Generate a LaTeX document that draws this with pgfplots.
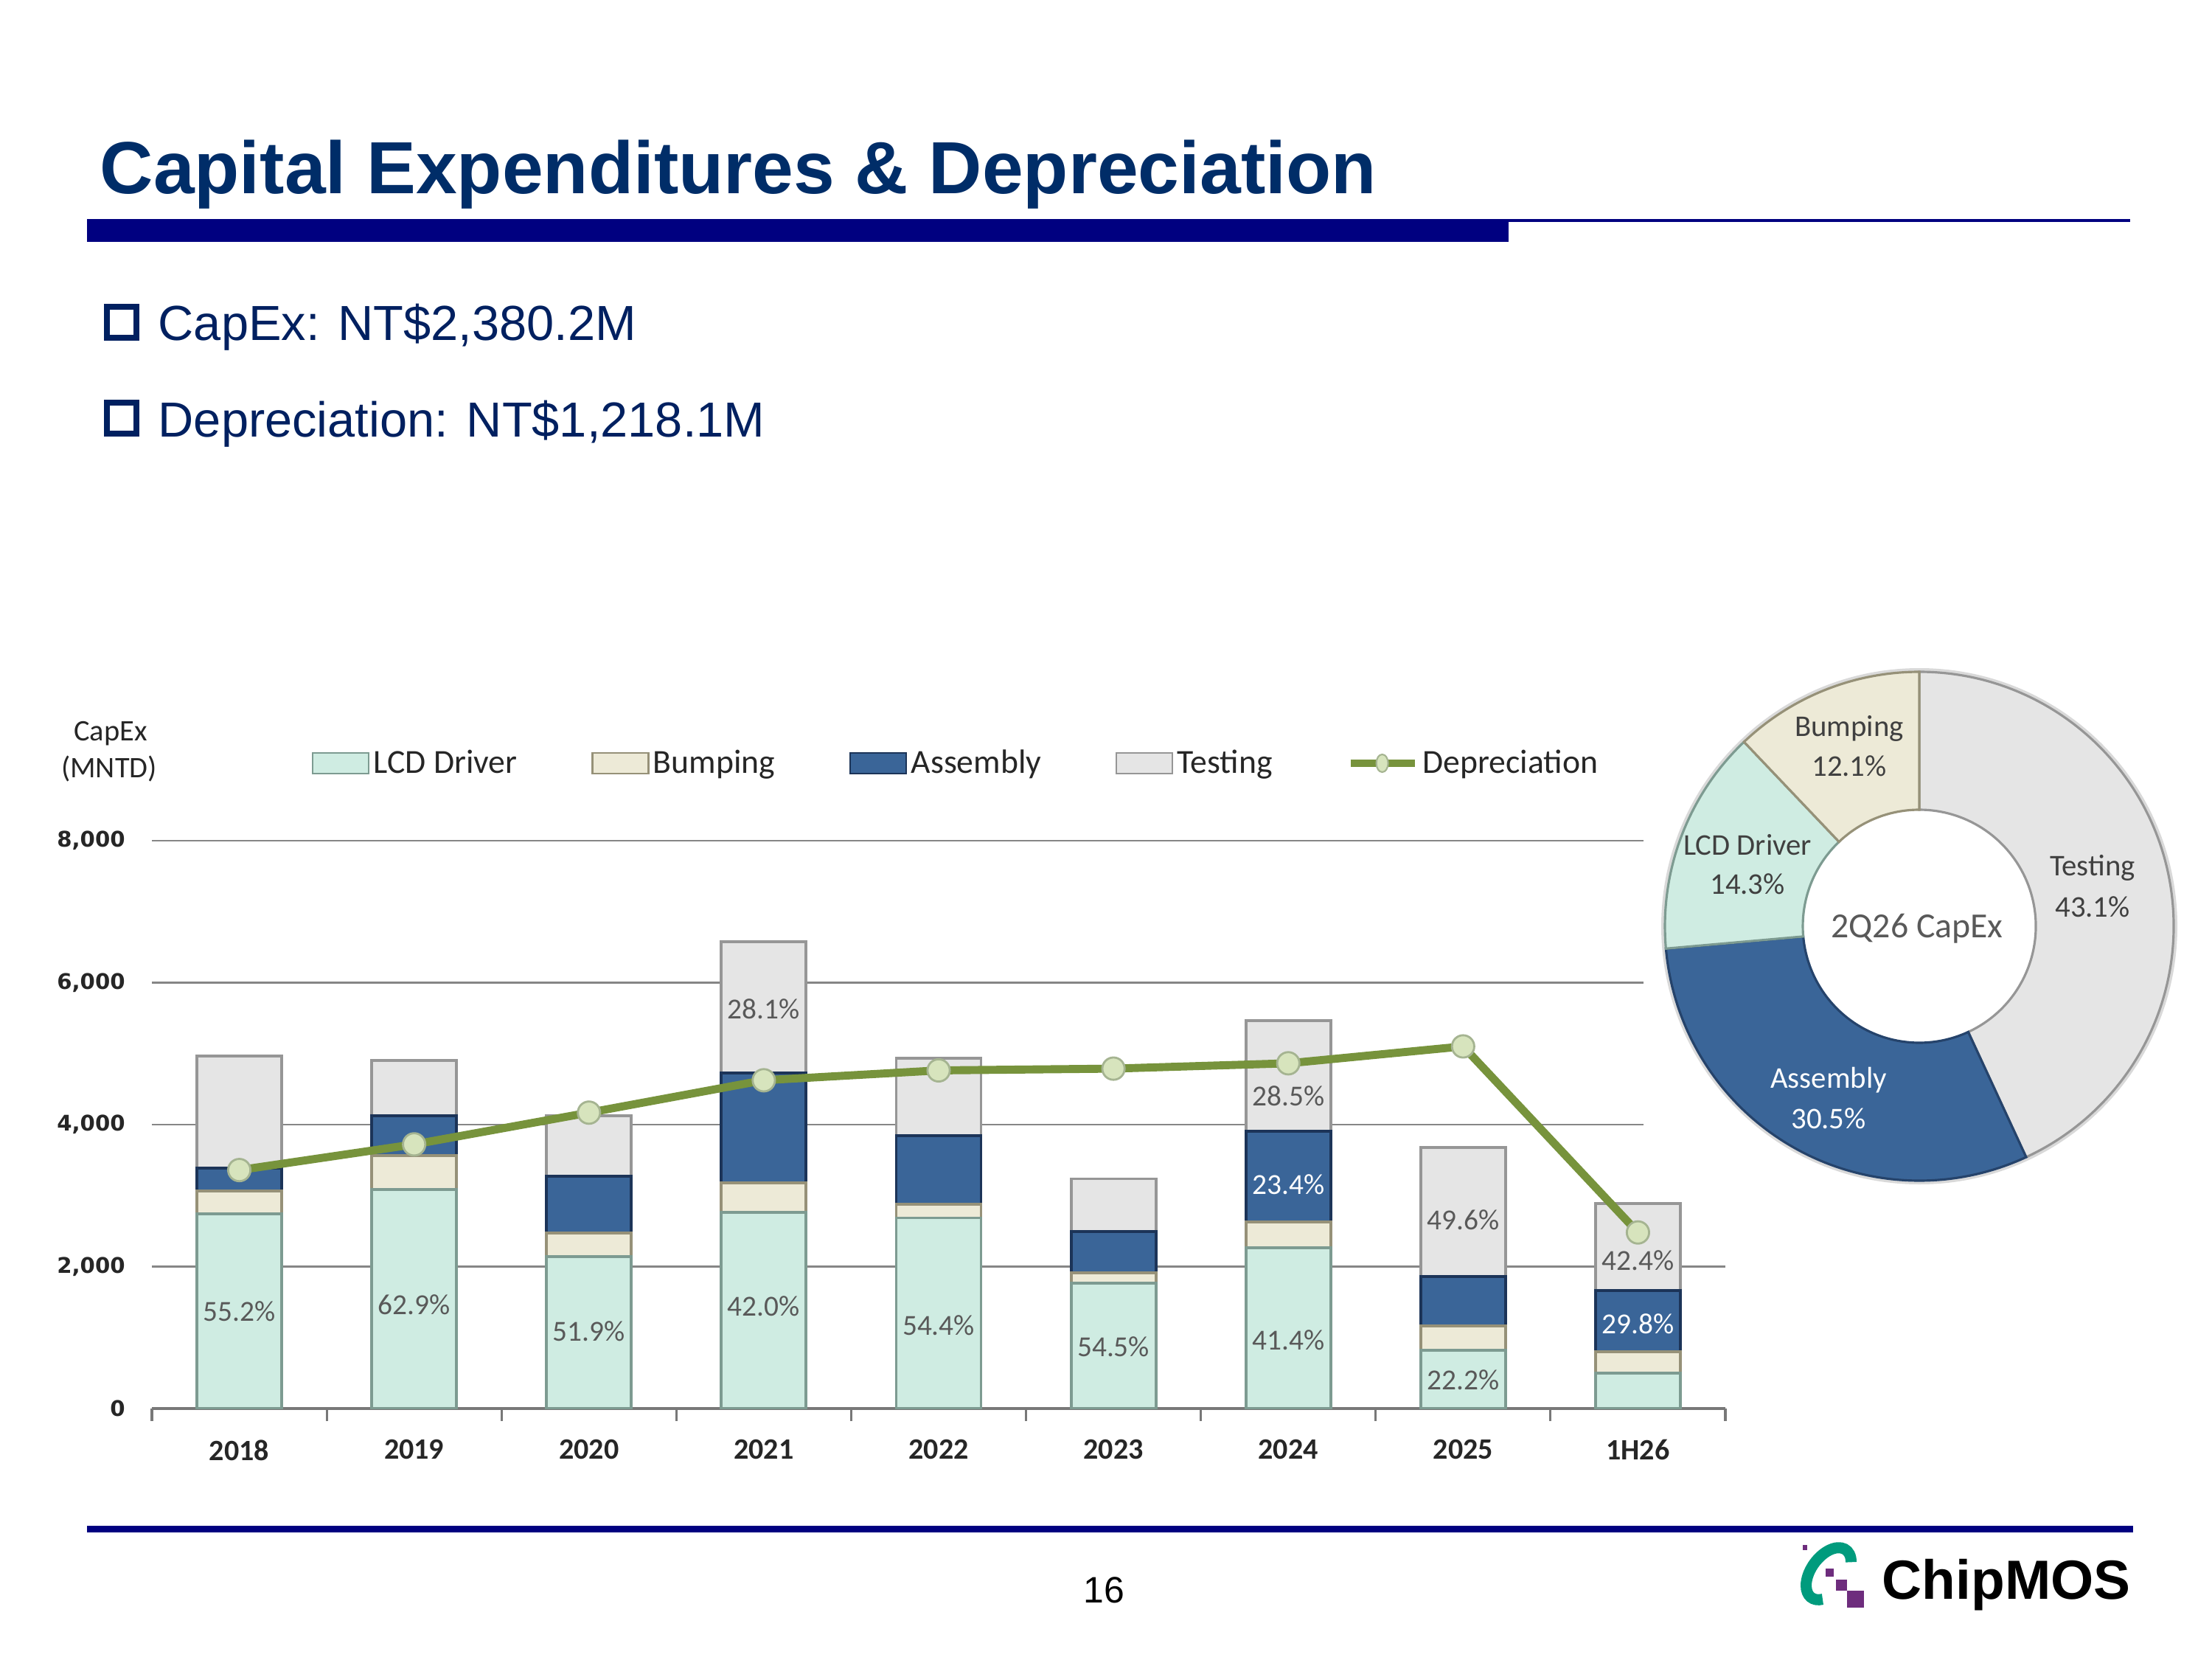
\documentclass[border=0pt]{standalone}
\usepackage{pgfplots}
\pgfplotsset{compat=1.18}
\usepackage{fontspec}
\setmainfont{Liberation Sans}
\newfontfamily\carlito{Carlito}
\newfontfamily\dejavu{DejaVu Sans}
\definecolor{navy}{RGB}{0,0,128}
\definecolor{titleblue}{RGB}{0,45,104}
\definecolor{bullblue}{RGB}{0,32,96}
\definecolor{lcd}{RGB}{207,236,226}
\definecolor{lcdD}{RGB}{125,155,145}
\definecolor{bump}{RGB}{237,234,215}
\definecolor{bumpD}{RGB}{150,145,120}
\definecolor{asm}{RGB}{58,101,152}
\definecolor{asmD}{RGB}{28,52,88}
\definecolor{test}{RGB}{229,229,229}
\definecolor{testD}{RGB}{150,150,150}
\definecolor{dep}{RGB}{119,147,60}
\definecolor{depM}{RGB}{215,228,189}
\definecolor{depMD}{RGB}{165,180,145}
\definecolor{gridgray}{RGB}{134,134,134}
\definecolor{axisgray}{RGB}{120,120,120}
\definecolor{lblgray}{RGB}{89,89,89}
\definecolor{pietext}{RGB}{64,64,64}
\definecolor{logoteal}{RGB}{0,155,125}
\definecolor{logopurple}{RGB}{110,45,125}
\tikzset{
  lbl/.style={font=\carlito\fontsize{11.2}{13}\selectfont, text=lblgray, inner sep=0pt},
  wlbl/.style={font=\carlito\fontsize{11.2}{13}\selectfont, text=white, inner sep=0pt},
}
\pgfplotsset{
  frame/.style={at={(2.06cm,3.40cm)}, anchor=south west,
    scale only axis, width=21.34cm, height=7.70cm,
    xmin=-0.5, xmax=8.5, ymin=0, ymax=8000},
}
\newcommand{\Rout}{3.45cm}
\newcommand{\Rin}{1.58cm}
\newcommand{\donutslice}[4]{%
  \filldraw[fill=#3, draw=#4, line width=0.9pt] (#1:\Rout) arc[start angle=#1, end angle=#2, radius=\Rout] -- (#2:\Rin) arc[start angle=#2, end angle=#1, radius=\Rin] -- cycle;}
\begin{document}
\begin{tikzpicture}
\useasboundingbox (0,0) rectangle (30cm,22.5cm);
% ---------------- frame: grid, ticks ----------------
\begin{axis}[
  frame,
  axis x line*=bottom, axis y line*=left,
  y axis line style={draw=none},
  x axis line style={draw=axisgray, line width=0.9pt},
  xtick={0,...,8},
  xticklabels={2018,2019,2020,2021,2022,2023,2024,2025,1H26},
  minor xtick={-0.5,0.5,...,8.5},
  major x tick style={draw=none},
  minor x tick style={draw=axisgray, line width=0.9pt},
  minor tick length=0.17cm,
  tick align=outside,
  ytick={0,2000,4000,6000,8000},
  yticklabels={0,{2,000},{4,000},{6,000},{8,000}},
  ytick style={draw=none},
  ymajorgrids, grid style={draw=gridgray, line width=0.75pt},
  xticklabel style={font=\carlito\bfseries\fontsize{11.4}{13}\selectfont, text=black!85, yshift=-0.15cm},
  yticklabel style={font=\dejavu\bfseries\fontsize{8.3}{10}\selectfont, text=black!85, xshift=-0.09cm},
]
\end{axis}
% white panel behind the donut (cuts the upper grid lines)
\fill[white] (22.29cm,5.5cm) rectangle (30cm,13.2cm);
% ---------------- bars ----------------
\begin{axis}[
  frame, hide axis,
  ybar stacked, bar width=1.15cm,
]
\addplot[fill=lcd, draw=lcdD, line width=1.1pt] coordinates {(0,2740) (1,3084) (2,2143) (3,2762) (4,2686) (5,1764) (6,2264) (7,817) (8,500)};
\addplot[fill=bump, draw=bumpD, line width=1.1pt] coordinates {(0,327) (1,480) (2,328) (3,414) (4,192) (5,147) (6,366) (7,349) (8,302)};
\addplot[fill=asm, draw=asmD, line width=1.1pt] coordinates {(0,318) (1,565) (2,804) (3,1552) (4,968) (5,580) (6,1280) (7,690) (8,861)};
\addplot[fill=test, draw=testD, line width=1.1pt] coordinates {(0,1578) (1,774) (2,854) (3,1848) (4,1092) (5,745) (6,1559) (7,1826) (8,1225)};
\end{axis}
% ---------------- line, legend, labels ----------------
\begin{axis}[
  frame, hide axis, clip=false,
  legend columns=5,
  legend style={at={(0.1012,1.1364)}, anchor=west, draw=none, fill=none, inner sep=0pt,
    font=\carlito\fontsize{13}{15}\selectfont, text=black!85,
    nodes={inner sep=1.5pt},
    /tikz/every even column/.append style={column sep=0.95cm}},
]
\addlegendimage{legend image code/.code={\draw[fill=lcd, draw=lcdD, line width=0.8pt] (0cm,-0.14cm) rectangle (0.76cm,0.14cm);}}
\addlegendentry{LCD Driver}
\addlegendimage{legend image code/.code={\draw[fill=bump, draw=bumpD, line width=0.8pt] (0cm,-0.14cm) rectangle (0.76cm,0.14cm);}}
\addlegendentry{Bumping}
\addlegendimage{legend image code/.code={\draw[fill=asm, draw=asmD, line width=0.8pt] (0cm,-0.14cm) rectangle (0.76cm,0.14cm);}}
\addlegendentry{Assembly}
\addlegendimage{legend image code/.code={\draw[fill=test, draw=testD, line width=0.8pt] (0cm,-0.14cm) rectangle (0.76cm,0.14cm);}}
\addlegendentry{Testing}
\addplot[color=dep, line width=3.1pt, mark=*, mark size=4.3pt,
  mark options={fill=depM, draw=depMD, line width=0.8pt},
  legend image code/.code={\draw[dep, line width=3.1pt] (0cm,0cm) -- (0.87cm,0cm); \filldraw[fill=depM, draw=depMD, line width=0.6pt] (0.43cm,0cm) ellipse (0.08cm and 0.12cm);}]
  coordinates {(0,3360) (1,3722) (2,4169) (3,4625) (4,4764) (5,4789) (6,4864) (7,5102) (8,2481)};
\addlegendentry{Depreciation}
\node[lbl] at (axis cs:0,1366) {55.2\%};
\node[lbl] at (axis cs:1,1466) {62.9\%};
\node[lbl] at (axis cs:2,1093) {51.9\%};
\node[lbl] at (axis cs:3,1441) {42.0\%};
\node[lbl] at (axis cs:3,5625) {28.1\%};
\node[lbl] at (axis cs:4,1168) {54.4\%};
\node[lbl] at (axis cs:5,870) {54.5\%};
\node[lbl] at (axis cs:6,4398) {28.5\%};
\node[wlbl] at (axis cs:6,3155) {23.4\%};
\node[lbl] at (axis cs:6,969) {41.4\%};
\node[lbl] at (axis cs:7,2658) {49.6\%};
\node[lbl] at (axis cs:7,398) {22.2\%};
\node[lbl] at (axis cs:8,2087) {42.4\%};
\node[wlbl] at (axis cs:8,1193) {29.8\%};
\end{axis}
% ---------------- donut ----------------
\begin{scope}[shift={(26.03cm,9.94cm)}]
  \pgfmathsetmacro{\aA}{90}
  \pgfmathsetmacro{\aB}{90-43.1*3.6}
  \pgfmathsetmacro{\aC}{\aB-30.5*3.6}
  \pgfmathsetmacro{\aD}{\aC-14.3*3.6}
  \pgfmathsetmacro{\aE}{\aD-12.1*3.6}
  \fill[black!15] (0,0) circle (3.50cm);
  \fill[white] (0,0) circle (\Rin);
  \donutslice{\aA}{\aB}{test}{testD}
  \donutslice{\aB}{\aC}{asm}{asmD!70!asm}
  \donutslice{\aC}{\aD}{lcd}{lcdD}
  \donutslice{\aD}{\aE}{bump}{bumpD}
\end{scope}
% ---------------- slide text ----------------
\begin{scope}[shift={(0,22.5cm)}, x=0.1mm, y=-0.1mm]
  \node[anchor=base west, inner sep=0pt, text=titleblue, font=\bfseries\fontsize{28.5}{34}\selectfont] at (135,263) {Capital Expenditures \& Depreciation};
  \fill[navy] (118,297) rectangle (2046,328);
  \fill[navy] (2046,297) rectangle (2889,301);
  \draw[bullblue, line width=0.08cm] (145,416) rectangle (185,458);
  \node[anchor=base west, inner sep=0pt, text=bullblue, font=\fontsize{19}{23}\selectfont] at (214,462) {CapEx: NT\$2,380.2M};
  \draw[bullblue, line width=0.08cm] (145,546) rectangle (185,588);
  \node[anchor=base west, inner sep=0pt, text=bullblue, font=\fontsize{19}{23}\selectfont] at (214,592) {Depreciation: NT\$1,218.1M};
  % y-axis title
  \node[inner sep=0pt, text=black!85, font=\carlito\fontsize{11.5}{13}\selectfont] at (150,995) {CapEx};
  \node[inner sep=0pt, text=black!85, font=\carlito\fontsize{11.5}{13}\selectfont] at (148,1043) {(MNTD)};
  % donut labels
  \node[inner sep=0pt, text=pietext, font=\carlito\fontsize{11.6}{13}\selectfont] at (2508,988) {Bumping};
  \node[inner sep=0pt, text=pietext, font=\carlito\fontsize{11.6}{13}\selectfont] at (2508,1039) {12.1\%};
  \node[inner sep=0pt, text=pietext, font=\carlito\fontsize{11.6}{13}\selectfont] at (2370,1146) {LCD Driver};
  \node[inner sep=0pt, text=pietext, font=\carlito\fontsize{11.6}{13}\selectfont] at (2370,1199) {14.3\%};
  \node[inner sep=0pt, text=pietext, font=\carlito\fontsize{11.6}{13}\selectfont] at (2838,1177) {Testing};
  \node[inner sep=0pt, text=pietext, font=\carlito\fontsize{11.6}{13}\selectfont] at (2838,1230) {43.1\%};
  \node[inner sep=0pt, text=white, font=\carlito\fontsize{11.6}{13}\selectfont] at (2480,1465) {Assembly};
  \node[inner sep=0pt, text=white, font=\carlito\fontsize{11.6}{13}\selectfont] at (2480,1517) {30.5\%};
  \node[inner sep=0pt, text=black!65, font=\carlito\fontsize{13.6}{16}\selectfont] at (2600,1259) {2Q26 CapEx};
  % footer
  \fill[navy] (118,2069) rectangle (2893,2078);
  \node[anchor=base, inner sep=0pt, font=\fontsize{14.2}{17}\selectfont] at (1497,2173) {16};
  \node[anchor=base west, inner sep=0pt, font=\bfseries\fontsize{21.3}{25}\selectfont] at (2552,2168) {ChipMOS};
  % logo squares
  \fill[logopurple] (2445,2095) rectangle (2451,2102);
  \fill[logopurple] (2460,2111) rectangle (2468,2119);
  \fill[logopurple] (2476,2127) rectangle (2487,2138);
  \fill[logopurple] (2490,2142) rectangle (2505,2157);
  \fill[logopurple] (2505,2157) rectangle (2528,2180);
\end{scope}
% logo ring
\begin{scope}[shift={(24.80cm,1.16cm)}, rotate=54]
  \draw[logoteal, line width=0.15cm] (-40:0.40cm and 0.24cm) arc[start angle=-40, end angle=215, x radius=0.40cm, y radius=0.24cm];
\end{scope}
\end{tikzpicture}
\end{document}
